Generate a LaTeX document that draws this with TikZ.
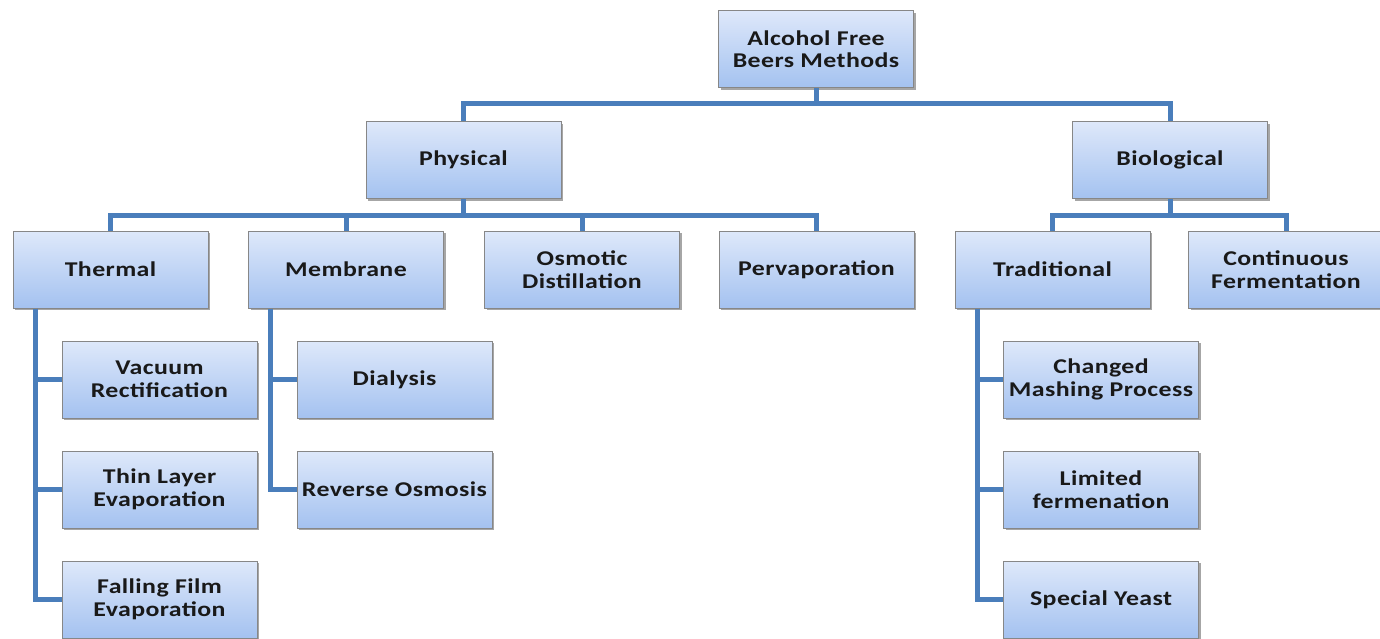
\documentclass[tikz,border=0pt]{standalone}
\usepackage{fontspec}
\setmainfont{Carlito}
\newfontfamily\boxfont[FakeStretch=1.23,LetterSpace=2]{Carlito}
\usetikzlibrary{shadows}

\definecolor{boxtop}{RGB}{222,232,250}
\definecolor{boxbot}{RGB}{164,194,240}
\definecolor{boxline}{RGB}{135,135,135}
\definecolor{linkblue}{RGB}{74,126,187}

\tikzset{
  methbox/.style={rectangle, draw=boxline, line width=1pt, top color=boxtop, bottom color=boxbot,
    minimum width=195pt, minimum height=77pt, inner sep=2pt, align=center,
    font=\boxfont\fontsize{21}{22.5}\selectfont\bfseries, text=black!90,
    drop shadow={shadow xshift=2pt, shadow yshift=-2pt, fill=black, opacity=.35}},
  link/.style={draw=linkblue, line width=5pt}
}

\begin{document}
\begin{tikzpicture}[x=1pt,y=1pt,yscale=-1,xscale=1]
				\useasboundingbox (0,0) rectangle (1380,638);

				% Top Node
				\node [methbox] (root) at (816,49) {Alcohol Free\\Beers Methods};
				% Level 1
				\node [methbox] (phys) at (463.5,160) {Physical};
				\node [methbox] (bio) at (1170,160) {Biological};
				% Level 2
				\node [methbox] (therm) at (110.5,269.5) {Thermal};
				\node [methbox] (memb) at (346,269.5) {Membrane};
				\node [methbox] (osmo) at (582,269.5) {Osmotic\\Distillation};
				\node [methbox] (perv) at (816.5,269.5) {Pervaporation};
				\node [methbox] (trad) at (1052.5,269.5) {Traditional};
				\node [methbox] (cont) at (1286,269.5) {Continuous\\Fermentation};
				% Thermal children
				\node [methbox] (vac) at (159.5,379.5) {Vacuum\\Rectification};
				\node [methbox] (thin) at (159.5,489.5) {Thin Layer\\Evaporation};
				\node [methbox] (fall) at (159.5,599.5) {Falling Film\\Evaporation};
				% Membrane children
				\node [methbox] (dial) at (394.5,379.5) {Dialysis};
				\node [methbox] (revo) at (394.5,489.5) {Reverse Osmosis};
				% Traditional children
				\node [methbox] (mash) at (1101,379.5) {Changed\\Mashing Process};
				\node [methbox] (limf) at (1101,489.5) {Limited\\fermenation};
				\node [methbox] (yeast) at (1101,599.5) {Special Yeast};

				% Links
				\draw [link] (root.south) -- ++(0,15) -| (phys.north);
				\draw [link] (root.south) -- ++(0,15) -| (bio.north);
				\draw [link] (phys.south) -- ++(0,16) -| (therm.north);
				\draw [link] (phys.south) -- ++(0,16) -| (memb.north);
				\draw [link] (phys.south) -- ++(0,16) -| (osmo.north);
				\draw [link] (phys.south) -- ++(0,16) -| (perv.north);
				\draw [link] (bio.south) -- ++(0,16) -| (trad.north);
				\draw [link] (bio.south) -- ++(0,16) -| (cont.north);
				\draw [link] ([xshift=-75pt]therm.south) |- (vac.west);
				\draw [link] ([xshift=-75pt]therm.south) |- (thin.west);
				\draw [link] ([xshift=-75pt]therm.south) |- (fall.west);
				\draw [link] ([xshift=-76pt]memb.south) |- (dial.west);
				\draw [link] ([xshift=-76pt]memb.south) |- (revo.west);
				\draw [link] ([xshift=-75.5pt]trad.south) |- (mash.west);
				\draw [link] ([xshift=-75.5pt]trad.south) |- (limf.west);
				\draw [link] ([xshift=-75.5pt]trad.south) |- (yeast.west);

\end{tikzpicture}
\end{document}
